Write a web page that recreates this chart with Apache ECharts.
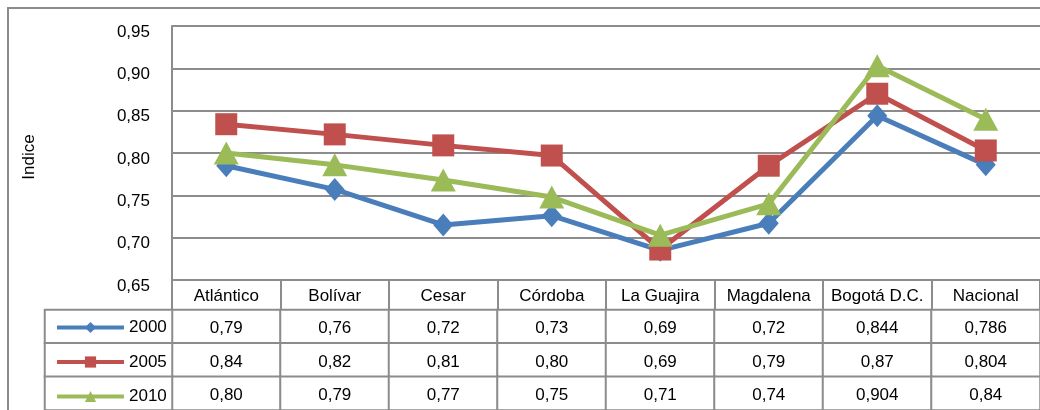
<!DOCTYPE html>
<html>
<head>
<meta charset="utf-8">
<script src="https://cdn.jsdelivr.net/npm/echarts@6/dist/echarts.min.js"></script>
<style>
    html, body { margin: 0; padding: 0; background: #fff; }
    #marco { position: absolute; left: 7px; top: 7px; width: 1100px; height: 500px;
             border-left: 2px solid #8c8c8c; border-top: 2px solid #8c8c8c; }
    #grafico { position: absolute; left: 0; top: 0; width: 1040px; height: 410px; }
</style>
</head>
<body>
<div id="marco"></div>
<div id="grafico"></div>
<script>
'use strict';

var regiones = ['Atlántico', 'Bolívar', 'Cesar', 'Córdoba', 'La Guajira', 'Magdalena', 'Bogotá D.C.', 'Nacional'];
var anios = ['2000', '2005', '2010'];

// valores
var indice2000 = [0.785, 0.757, 0.715, 0.726, 0.685, 0.717, 0.844, 0.786];
var indice2005 = [0.834, 0.822, 0.809, 0.797, 0.686, 0.785, 0.870, 0.803];
var indice2010 = [0.800, 0.786, 0.768, 0.748, 0.703, 0.740, 0.903, 0.840];

// texto de la tabla de datos
var tabla2000 = ['0,79', '0,76', '0,72', '0,73', '0,69', '0,72', '0,844', '0,786'];
var tabla2005 = ['0,84', '0,82', '0,81', '0,80', '0,69', '0,79', '0,87', '0,804'];
var tabla2010 = ['0,80', '0,79', '0,77', '0,75', '0,71', '0,74', '0,904', '0,84'];

var yMin = 0.65, yMax = 0.95, yPaso = 0.05;

window.onload = function() {
    var fuente = "'Liberation Sans', Arial, sans-serif";
    var gris = '#8c8c8c';
    var colores = ['#4a7ebb', '#c0504d', '#9bbb59'];
    var tamLetra = 17;

    var myChart = echarts.init(document.getElementById('grafico'));

    // celdas de la tabla
    var tablas = [tabla2000, tabla2005, tabla2010];
    var celdas = [];
    tablas.forEach(function(fila, r) {
        fila.forEach(function(txt, c) {
            celdas.push({ value: [c, r, 1], texto: txt });
        });
    });
    var celdasLeyenda = anios.map(function(a, r) { return [0, r, 1]; });

    var serieLinea = function(nombre, datos, simbolo, tam, color) {
        return {
            name: nombre,
            type: 'line',
            xAxisIndex: 0,
            yAxisIndex: 0,
            data: datos,
            symbol: simbolo,
            symbolSize: tam,
            lineStyle: { width: 5, color: color },
            itemStyle: { color: color },
            animation: false
        };
    };

    var option = {
        animation: false,
        textStyle: { fontFamily: fuente },
        legend: {
            data: anios,
            orient: 'vertical',
            left: 55,
            top: 317.5,
            padding: 0,
            itemWidth: 67,
            itemHeight: 14,
            itemGap: 14.5,
            selectedMode: false,
            lineStyle: { width: 4 },
            textStyle: { fontFamily: fuente, fontSize: tamLetra, color: '#000', lineHeight: 20 }
        },
        visualMap: {
            show: false,
            seriesIndex: [3, 4],
            min: 0,
            max: 1,
            inRange: { color: ['#ffffff', '#ffffff'] }
        },
        grid: [
            { left: 172, top: 26, width: 875, height: 254 },
            { left: 172, top: 310, width: 875, height: 103.5 },
            { left: 45, top: 310, width: 127, height: 103.5 }
        ],
        xAxis: [{
            type: 'category',
            gridIndex: 0,
            data: regiones,
            boundaryGap: true,
            axisLine: { lineStyle: { color: gris, width: 2 } },
            axisTick: { show: true, length: 30, alignWithLabel: false, lineStyle: { color: gris, width: 2 } },
            axisLabel: { interval: 0, margin: 8, fontSize: tamLetra, color: '#000', fontFamily: fuente },
            splitLine: { show: false }
        }, {
            type: 'category',
            gridIndex: 1,
            data: regiones,
            show: false
        }, {
            type: 'category',
            gridIndex: 2,
            data: [''],
            show: false
        }],
        yAxis: [{
            type: 'value',
            gridIndex: 0,
            min: yMin,
            max: yMax,
            interval: yPaso,
            name: 'Indice',
            nameLocation: 'middle',
            nameRotate: 90,
            nameGap: 134,
            nameTextStyle: { fontSize: tamLetra, color: '#000', fontFamily: fuente, padding: [0, 8, 0, 0] },
            axisLine: { show: true, lineStyle: { color: gris, width: 2 } },
            axisTick: { show: false },
            axisLabel: {
                fontSize: tamLetra,
                color: '#000',
                margin: 22,
                fontFamily: fuente,
                verticalAlign: 'top',
                lineHeight: 12,
                formatter: function(v) { return v.toFixed(2).replace('.', ','); }
            },
            splitLine: { lineStyle: { color: gris, width: 2 } }
        }, {
            type: 'category',
            gridIndex: 1,
            data: anios,
            inverse: true,
            show: false
        }, {
            type: 'category',
            gridIndex: 2,
            data: anios,
            inverse: true,
            show: false
        }],
        series: [
            serieLinea('2000', indice2000, 'diamond', [20, 23], colores[0]),
            serieLinea('2005', indice2005, 'rect', 22, colores[1]),
            serieLinea('2010', indice2010, 'triangle', [25, 23], colores[2]),
            {
                name: 'tabla',
                type: 'heatmap',
                xAxisIndex: 1,
                yAxisIndex: 1,
                data: celdas,
                itemStyle: { color: '#fff', borderColor: gris, borderWidth: 2 },
                label: {
                    show: true,
                    fontSize: tamLetra,
                    color: '#000',
                    fontFamily: fuente,
                    offset: [0, 2],
                    formatter: function(p) { return p.data.texto; }
                },
                emphasis: { disabled: true },
                silent: true
            },
            {
                name: 'leyenda',
                type: 'heatmap',
                xAxisIndex: 2,
                yAxisIndex: 2,
                data: celdasLeyenda,
                itemStyle: { color: '#fff', borderColor: gris, borderWidth: 2 },
                label: { show: false },
                emphasis: { disabled: true },
                silent: true
            }
        ]
    };

    myChart.setOption(option);
};
</script>
</body>
</html>
